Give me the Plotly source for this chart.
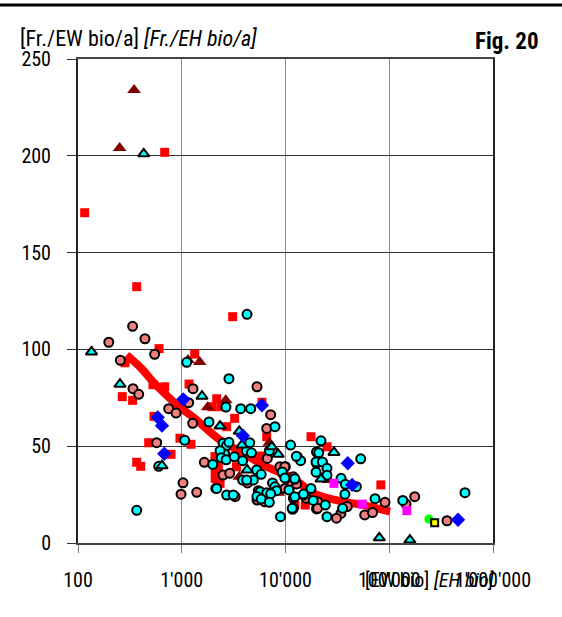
import plotly.graph_objects as go

# ---- data (x = EW bio, y = Fr./EW bio/a) ----
salmon_x = [198, 336, 442, 548, 256, 339, 385, 1284, 1166, 748, 881, 1274, 573, 1029, 984, 1394, 1650,
            5312, 7194, 6590, 6680, 2500, 8830, 9950, 9860, 11500, 11900, 15900, 19900, 20400, 9860,
            11900, 39400, 34200, 31000, 58000, 69000, 91000, 145000, 176000, 360000, 3270, 5320, 6300,
            5470, 7000, 12800, 20400, 2900, 4300]
salmon_y = [103.7, 111.9, 105.5, 97.5, 94.4, 79.7, 76.8, 79.7, 72.5, 69.4, 67.1, 61.8, 51.8, 31.1, 25.2, 26.2, 41.7,
            80.7, 66.3, 59.2, 43.7, 35.1, 39.4, 39.4, 28.2, 30.0, 23.1, 23.1, 17.6, 21.3, 39.4,
            34.2, 18.8, 15.3, 12.8, 14.5, 15.7, 21.0, 20.1, 23.9, 11.5, 23.9, 22.2, 21.3,
            27.0, 25.0, 30.5, 17.9, 36.0, 31.0]

cyan_x = [4256, 1117, 2665, 3700, 4620, 7920, 1832, 1067, 600, 368, 2850, 1990, 2130, 2500, 2700, 2850, 2600,
          2340, 2400, 2680, 3210, 4520, 4200, 4700, 6990, 3860, 3860, 4900, 5270, 5830, 9400, 7500, 7900,
          8200, 10800, 12300, 11900, 14900, 18500, 2170, 2710, 3140, 5700, 6600, 5300, 7200, 8950, 11200,
          13000, 14000, 19900, 19900, 22000, 12700, 20900, 19700, 22700, 25100, 19700, 25100, 9300, 9860,
          12300, 34300, 37700, 48200, 17600, 14900, 12300, 37400, 35500, 24200, 25100, 11700, 53100, 73000,
          135000, 537000, 5830, 6990, 11600, 4230]
cyan_y = [118.1, 93.3, 70.2, 69.4, 69.4, 60.1, 62.5, 53.1, 39.6, 16.9, 84.9, 40.6, 28.2, 51.5, 50.3, 52.0, 46.0,
          47.7, 44.0, 43.0, 44.6, 51.8, 47.7, 46.6, 47.7, 42.5, 32.5, 32.5, 37.7, 35.5, 36.0, 31.0, 29.0,
          27.0, 27.4, 32.9, 17.9, 24.8, 22.0, 28.2, 24.8, 24.8, 26.5, 26.0, 24.0, 25.5, 13.6, 50.6,
          44.6, 42.5, 47.0, 41.2, 52.8, 44.8, 46.6, 41.9, 41.9, 38.6, 36.6, 35.0, 36.7, 33.6,
          33.2, 33.4, 30.3, 29.1, 28.1, 25.3, 23.9, 25.2, 17.9, 19.6, 13.6, 17.4, 43.5, 22.9,
          22.0, 26.0, 22.7, 21.0, 17.9, 32.5]

cyantri_x = [135, 430, 254, 1567, 645, 2338, 3590, 3800, 4270, 8500, 7380, 29320, 22000, 80200, 158000]
cyantri_y = [98.7, 201.0, 82.0, 75.8, 39.9, 60.4, 57.7, 50.6, 37.7, 45.8, 49.7, 46.8, 33.0, 2.7, 1.5]

darkred_x = [347, 252, 1150, 1489, 1779, 2655, 6990, 3590, 8500, 26000, 23500]
darkred_y = [234.0, 204.0, 94.5, 93.5, 70.1, 73.7, 51.8, 34.2, 26.0, 32.5, 34.0]

red_x = [685, 116, 368, 3097, 604, 284, 1333, 267, 336, 528, 685, 1175, 540, 1952, 2173, 2380, 3234, 5935,
         6590, 2710, 961, 1228, 480, 788, 368, 402, 2090, 2250, 2100, 2100, 2200, 2340, 3370, 5100, 5690,
         15500, 12300, 17620, 25120, 83000]
red_y = [201.8, 170.6, 132.4, 116.9, 100.4, 93.1, 97.6, 75.6, 73.7, 81.8, 80.7, 82.1, 65.4, 70.4, 74.5, 70.4, 64.4, 72.7,
         54.9, 60.1, 54.1, 51.0, 51.8, 45.8, 41.7, 39.6, 44.6, 39.4, 37.7, 33.4, 32.9, 30.8, 39.4, 44.6, 44.9,
         19.6, 19.6, 54.9, 49.7, 30.0]

blue_x = [1036, 587, 645, 679, 5935, 3893, 39800, 43900, 460000]
blue_y = [74.2, 64.9, 60.6, 46.1, 71.1, 55.4, 41.2, 30.0, 12.0]

magenta_x = [29300, 55000, 148000]
magenta_y = [30.8, 20.1, 16.7]

green_x = [241000]
green_y = [12.4]

yellow_x = [274000]
yellow_y = [10.5]

trend_x = [294, 408, 528, 685, 922, 1330, 2340, 3930, 6590, 11900, 18530, 38900, 56000, 101600]
trend_y = [97.1, 90.2, 83.3, 77.3, 70.8, 64.4, 53.2, 46.3, 39.4, 33.4, 25.7, 21.0, 19.6, 16.2]

x_tickvals = [100, 1000, 10000, 100000, 1000000]
x_ticktext = ["100", "1'000", "10'000", "100'000", "1'000'000"]
y_tickvals = [0, 50, 100, 150, 200, 250]

FONT = "Liberation Sans Narrow, Arial Narrow, Roboto Condensed, DejaVu Sans Condensed, sans-serif"

fig = go.Figure()
fig.add_trace(go.Scatter(x=trend_x, y=trend_y, mode="lines",
                         line=dict(color="#FF0000", width=8, shape="spline"), hoverinfo="skip"))
fig.add_trace(go.Scatter(x=red_x, y=red_y, mode="markers",
                         marker=dict(symbol="square", size=9, color="#FF0000")))
fig.add_trace(go.Scatter(x=darkred_x, y=darkred_y, mode="markers",
                         marker=dict(symbol="triangle-up", size=12, color="#800000")))
fig.add_trace(go.Scatter(x=salmon_x, y=salmon_y, mode="markers",
                         marker=dict(symbol="circle", size=9, color="#F08080",
                                     line=dict(color="black", width=2))))
fig.add_trace(go.Scatter(x=cyan_x, y=cyan_y, mode="markers",
                         marker=dict(symbol="circle", size=9, color="#00FFFF",
                                     line=dict(color="black", width=2))))
fig.add_trace(go.Scatter(x=cyantri_x, y=cyantri_y, mode="markers",
                         marker=dict(symbol="triangle-up", size=10, color="#00FFFF",
                                     line=dict(color="black", width=2))))
fig.add_trace(go.Scatter(x=blue_x, y=blue_y, mode="markers",
                         marker=dict(symbol="diamond", size=11, color="#0000FF")))
fig.add_trace(go.Scatter(x=magenta_x, y=magenta_y, mode="markers",
                         marker=dict(symbol="square", size=9, color="#FF00FF")))
fig.add_trace(go.Scatter(x=green_x, y=green_y, mode="markers",
                         marker=dict(symbol="circle", size=9, color="#00FF00")))
fig.add_trace(go.Scatter(x=yellow_x, y=yellow_y, mode="markers",
                         marker=dict(symbol="square", size=7, color="#FFFF00",
                                     line=dict(color="black", width=2))))

fig.update_layout(
    width=562, height=617,
    margin=dict(l=78, r=69, t=59, b=74),
    paper_bgcolor="white", plot_bgcolor="white",
    showlegend=False,
    font=dict(family=FONT, size=20, color="black"),
    xaxis=dict(type="log", range=[2, 6], tickvals=x_tickvals, ticktext=x_ticktext,
               showgrid=True, gridcolor="#888888", gridwidth=1,
               showline=True, linecolor="#444444", linewidth=2, mirror=True,
               ticks="outside", ticklen=8, tickcolor="#777777", tickwidth=1,
               ticklabelstandoff=10, zeroline=False,
               tickfont=dict(family=FONT, size=20, color="black")),
    yaxis=dict(range=[0, 250], tickvals=y_tickvals,
               showgrid=True, gridcolor="#333333", gridwidth=1,
               showline=True, linecolor="#222222", linewidth=2, mirror=True,
               ticks="outside", ticklen=9, tickcolor="#333333", tickwidth=1,
               ticklabelstandoff=12, zeroline=False,
               tickfont=dict(family=FONT, size=20, color="black")),
)

# header rule
fig.add_shape(type="line", xref="paper", yref="paper",
              x0=-78 / 415, x1=(562 - 78) / 415, y0=(543 - 5) / 484, y1=(543 - 5) / 484,
              line=dict(color="black", width=3))

fig.add_annotation(text="[Fr./EW bio/a] <i>[Fr./EH bio/a]</i>", xref="paper", yref="paper",
                   x=(18 - 78) / 415, y=(543 - 39) / 484, xanchor="left", yanchor="middle",
                   showarrow=False, font=dict(family=FONT, size=22, color="black"))
fig.add_annotation(text="<b>Fig. 20</b>", xref="paper", yref="paper",
                   x=(541 - 78) / 415, y=(543 - 42) / 484, xanchor="right", yanchor="middle",
                   showarrow=False, font=dict(family=FONT, size=23, color="black"))
fig.add_annotation(text="[EW bio] <i>[EH bio]</i>", xref="paper", yref="paper",
                   x=(430 - 78) / 415, y=(543 - 580) / 484, xanchor="center", yanchor="middle",
                   showarrow=False, font=dict(family=FONT, size=20, color="black"))

fig.write_html("out.html")
